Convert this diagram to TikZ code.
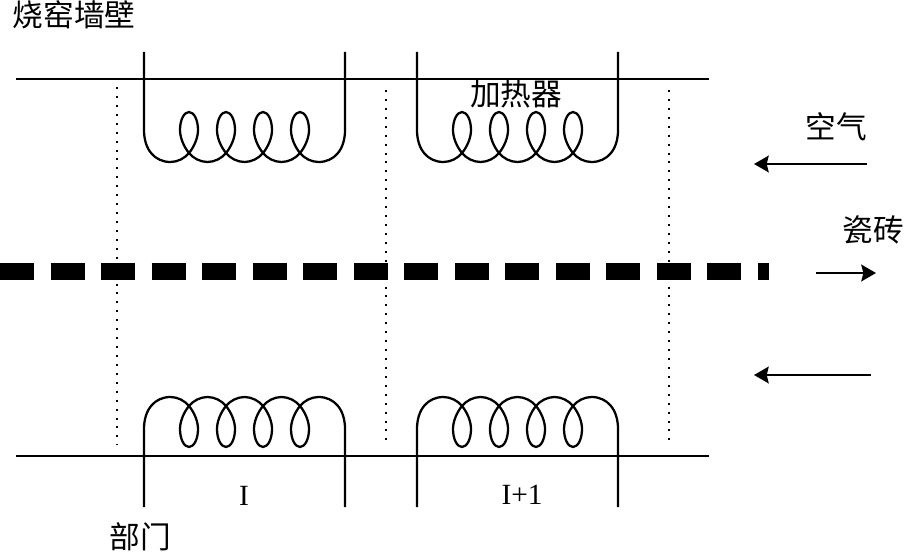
\documentclass[tikz,border=0pt]{standalone}
\usepackage{fontspec}
\setmainfont{Liberation Serif}
\newfontfamily\cjk{Noto Sans CJK SC}
\usetikzlibrary{arrows.meta,positioning}
\tikzset{
    parede/.style={draw, line width=1.7pt},
    pontilhado/.style={draw, line width=1.4pt, dash pattern=on 1.5pt off 5.2pt},
    tijolo/.style={draw, line width=12.75pt, dash pattern=on 25.5pt off 12.4pt},
    fluxo/.style={-{Stealth[length=11pt, width=12.5pt, inset=1.5pt]}, line width=1.7pt},
    rotulo/.style={font=\fontsize{23}{25}\selectfont\cjk, inner sep=0pt},
    secao/.style={font=\fontsize{22}{24}\selectfont, inner sep=0pt},
    heater/.pic={
        \draw[parede] (0,-110) -- (0,-32) .. controls (0,-12) and (11,0) .. (26.5,0)
            \foreach \cx in {45,82,119,156} {
                .. controls ({\cx-11},0) and ({\cx-4},-4) .. (\cx,-9)
                .. controls ({\cx+5},-15) and ({\cx+9},-24) .. ({\cx+9},-32)
                .. controls ({\cx+9},-42) and ({\cx+5},-50) .. (\cx,-50)
                .. controls ({\cx-5},-50) and ({\cx-9},-42) .. ({\cx-9},-32)
                .. controls ({\cx-9},-24) and ({\cx-5},-15) .. (\cx,-9)
                .. controls ({\cx+4},-4) and ({\cx+11},0) .. ({\cx+18.5},0)
            }
            .. controls (190,0) and (201,-12) .. (201,-32) -- (201,-110);
    }
}

\begin{document}
\begin{tikzpicture}[x=0.75pt, y=-0.75pt]
        \useasboundingbox (0,0) rectangle (905,552);

        \node[rotulo] (forno) at (74,15) {烧窑墙壁};
        \node[rotulo] (aquec) at (516,94) {加热器};
        \node[rotulo] (ar) at (836,127) {空气};
        \node[rotulo] (tile) at (873,230) {瓷砖};
        \node[rotulo] (parte) at (140,537) {部门};
        \node[secao] (seci) at (244,496) {I};
        \node[secao] (secj) at (522,495) {I+1};

        \draw[parede] (16,79) -- (709,79);
        \draw[parede] (16,456) -- (709,456);

        \pic at (144,162) {heater};
        \pic at (417,162) {heater};
        \pic[yscale=-1] at (144,397) {heater};
        \pic[yscale=-1] at (417,397) {heater};

        \draw[pontilhado] (117,87) -- (117,445);
        \draw[pontilhado] (386,90) -- (386,445);
        \draw[pontilhado] (669,90) -- (669,445);

        \draw[tijolo] (0,271.5) -- (769,271.5);

        \coordinate (arA) at (867,164);
        \coordinate (arB) at (754,164);
        \coordinate (arC) at (871,375);
        \coordinate (arD) at (754,375);
        \coordinate (tileA) at (816,273);
        \coordinate (tileB) at (876,273);
        \draw[fluxo] (arA) -- (arB);
        \draw[fluxo] (arC) -- (arD);
        \draw[fluxo] (tileA) -- (tileB);
\end{tikzpicture}
\end{document}
